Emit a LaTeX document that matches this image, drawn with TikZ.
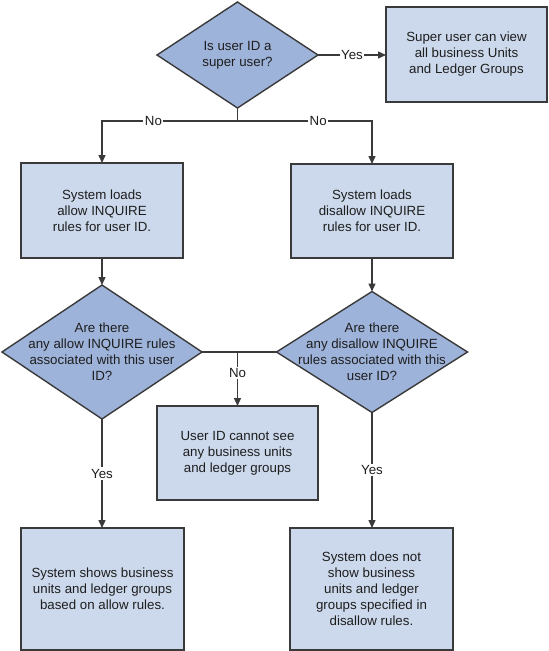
\documentclass[tikz,border=0pt]{standalone}
\usepackage{fontspec}
\setmainfont{Liberation Sans}
\usetikzlibrary{shapes.geometric,arrows.meta}
\definecolor{dfill}{HTML}{9EB3DA}
\definecolor{bfill}{HTML}{CCD9EC}
\definecolor{edge}{HTML}{3A3A3A}
\definecolor{txt}{HTML}{1E1E1E}
\tikzset{
  box/.style={draw=edge, line width=1.4pt, fill=bfill, rectangle, inner sep=0pt, outer sep=0pt},
  dia/.style={draw=edge, line width=1.4pt, fill=dfill, diamond, inner sep=0pt, outer sep=0pt},
  txtnode/.style={align=center, text=txt, font=\fontsize{13.3}{16}\selectfont, inner sep=0pt},
  conn/.style={draw=edge, line width=1.4pt},
  arr/.style={conn, -{Triangle[length=8pt,width=7pt]}},
  lbl/.style={fill=white, inner sep=1.5pt, text=txt, font=\fontsize{13.3}{16}\selectfont}
}
\begin{document}
\begin{tikzpicture}[x=1pt,y=-1pt]
\useasboundingbox (0,0) rectangle (549,651);
% diamonds
\node[dia, minimum width=161pt, minimum height=106pt] (d1) at (237.5,55) {};
\node[txtnode] (t1) at (d1.center) {Is user ID a\\super user?};
\node[dia, minimum width=200pt, minimum height=134pt] (d2) at (102,352) {};
\node[txtnode] (t2) at (d2.center) {Are there\\any allow INQUIRE rules\\associated with this user\\ID?};
\node[dia, minimum width=191pt, minimum height=121pt] (d3) at (372,352) {};
\node[txtnode] (t3) at (d3.center) {Are there\\any disallow INQUIRE\\rules associated with this\\user ID?};
% boxes
\node[box, minimum width=161pt, minimum height=95pt, txtnode] (su) at (466.5,54.5) {Super user can view\\all business Units\\and Ledger Groups};
\node[box, minimum width=162pt, minimum height=95pt, txtnode] (b1) at (102,210.5) {System loads\\allow INQUIRE\\rules for user ID.};
\node[box, minimum width=162pt, minimum height=94pt, txtnode] (b2) at (372,211) {System loads\\disallow INQUIRE\\rules for user ID.};
\node[box, minimum width=161pt, minimum height=94pt, txtnode] (m) at (237.5,453) {User ID cannot see\\any business units\\and ledger groups};
\node[box, minimum width=163pt, minimum height=122pt, txtnode] (b4) at (102.5,589) {System shows business\\units and ledger groups\\based on allow rules.};
\node[box, minimum width=163pt, minimum height=122pt, txtnode] (b5) at (371.5,589) {System does not\\show business\\units and ledger\\groups specified in\\disallow rules.};
% connectors
\draw[arr] (d1.east) -- node[lbl]{Yes} (d1.east -| su.west);
\coordinate (j1) at ([yshift=-13pt]d1.south);
\draw[conn] (d1.south) -- (j1);
\draw[arr] (j1) -| node[lbl, pos=0.31]{No} (b1.north);
\draw[arr] (j1) -| node[lbl, pos=0.30]{No} (b2.north);
\draw[arr] (b1.south) -- (b1.south |- d2.north);
\draw[arr] (b2.south) -- (d3.north);
\draw[conn] (d2.east) -- (d3.west);
\draw[arr] (d2.east -| m.north) -- node[lbl, pos=0.39]{No} (m.north);
\draw[arr] (d2.south) -- node[lbl, pos=0.5]{Yes} (d2.south |- b4.north);
\draw[arr] (d3.south) -- node[lbl, pos=0.5]{Yes} (d3.south |- b5.north);
\end{tikzpicture}
\end{document}
